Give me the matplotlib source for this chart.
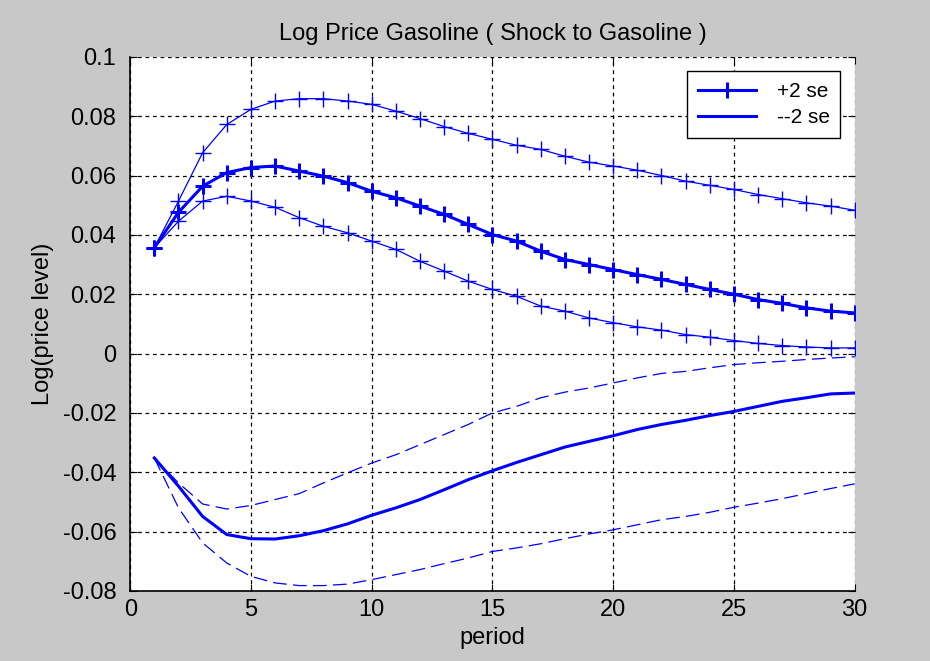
import numpy as np
import matplotlib.pyplot as plt

period = np.arange(1, 31)

# impulse response of log gasoline price, with +/- 2 se bands
up_mid = [0.0357, 0.0476, 0.0564, 0.0610, 0.0627, 0.0632, 0.0615, 0.0598, 0.0576, 0.0547,
          0.0525, 0.0497, 0.0469, 0.0435, 0.0401, 0.0379, 0.0345, 0.0317, 0.0300, 0.0283,
          0.0266, 0.0250, 0.0233, 0.0216, 0.0200, 0.0182, 0.0169, 0.0154, 0.0143, 0.0137]
up_hi = [0.0357, 0.0514, 0.0677, 0.0772, 0.0823, 0.0851, 0.0859, 0.0859, 0.0851, 0.0840,
         0.0817, 0.0792, 0.0765, 0.0742, 0.0722, 0.0702, 0.0688, 0.0665, 0.0645, 0.0632,
         0.0618, 0.0600, 0.0581, 0.0567, 0.0553, 0.0536, 0.0522, 0.0508, 0.0497, 0.0483]
up_lo = [0.0357, 0.0446, 0.0514, 0.0530, 0.0514, 0.0493, 0.0458, 0.0429, 0.0407, 0.0379,
         0.0351, 0.0311, 0.0278, 0.0244, 0.0216, 0.0193, 0.0160, 0.0143, 0.0120, 0.0104,
         0.0090, 0.0079, 0.0064, 0.0055, 0.0044, 0.0034, 0.0027, 0.0022, 0.0019, 0.0019]

dn_mid = [-0.0352, -0.0447, -0.0549, -0.0610, -0.0624, -0.0625, -0.0614, -0.0597, -0.0574, -0.0545,
          -0.0520, -0.0492, -0.0459, -0.0425, -0.0395, -0.0367, -0.0341, -0.0315, -0.0296, -0.0277,
          -0.0256, -0.0239, -0.0225, -0.0209, -0.0195, -0.0178, -0.0161, -0.0149, -0.0136, -0.0133]
dn_hi = [-0.0352, -0.0436, -0.0507, -0.0524, -0.0512, -0.0492, -0.0472, -0.0436, -0.0402, -0.0369,
         -0.0341, -0.0307, -0.0273, -0.0239, -0.0200, -0.0178, -0.0149, -0.0130, -0.0116, -0.0099,
         -0.0082, -0.0067, -0.0060, -0.0048, -0.0037, -0.0031, -0.0026, -0.0020, -0.0015, -0.0011]
dn_lo = [-0.0352, -0.0520, -0.0638, -0.0706, -0.0751, -0.0773, -0.0782, -0.0782, -0.0777, -0.0762,
         -0.0745, -0.0728, -0.0708, -0.0689, -0.0667, -0.0655, -0.0641, -0.0624, -0.0608, -0.0594,
         -0.0577, -0.0560, -0.0549, -0.0535, -0.0518, -0.0504, -0.0489, -0.0472, -0.0455, -0.0439]

xticks = [0, 5, 10, 15, 20, 25, 30]
yticks = [-0.08, -0.06, -0.04, -0.02, 0, 0.02, 0.04, 0.06, 0.08, 0.1]
ytick_labels = ['-0.08', '-0.06', '-0.04', '-0.02', '0', '0.02', '0.04', '0.06', '0.08', '0.1']

plt.rcParams['font.family'] = ['Liberation Sans', 'DejaVu Sans']
blue = '#0000ff'

fig = plt.figure(figsize=(9.30, 6.61), dpi=100, facecolor='#c8c8c8')
ax = fig.add_axes([0.14, 0.106, 0.779, 0.808])
ax.set_facecolor('white')

l1, = ax.plot(period, up_mid, color=blue, lw=2.2, marker='+', ms=12, mew=2.2)
ax.plot(period, up_hi, color=blue, lw=0.9, marker='+', ms=12, mew=1.0)
ax.plot(period, up_lo, color=blue, lw=0.9, marker='+', ms=12, mew=1.0)

l2, = ax.plot(period, dn_mid, color=blue, lw=2.2)
ax.plot(period, dn_hi, color=blue, lw=0.9, linestyle=(0, (11, 5)))
ax.plot(period, dn_lo, color=blue, lw=0.9, linestyle=(0, (11, 5)))

ax.set_xlim(0, 30)
ax.set_ylim(-0.08, 0.1)
ax.set_xticks(xticks)
ax.set_yticks(yticks)
ax.set_yticklabels(ytick_labels)
ax.tick_params(direction='in', length=5, labelsize=17, top=True, right=True)
ax.tick_params(axis='y', pad=10)
ax.tick_params(axis='x', pad=6)
ax.grid(True, color='black', linestyle=(0, (3, 3)), lw=0.9)
ax.spines['top'].set_visible(False)
ax.spines['right'].set_visible(False)
ax.spines['left'].set_linewidth(1.2)
ax.spines['bottom'].set_linewidth(1.2)

ax.set_title('Log Price Gasoline ( Shock to Gasoline )', fontsize=17, pad=12)
ax.set_xlabel('period', fontsize=17, labelpad=4)
ax.set_ylabel('Log(price level)', fontsize=17, labelpad=6)

leg = ax.legend([l1, l2], ['+2 se', '--2 se'], loc='upper right', numpoints=1,
                fontsize=15, fancybox=False, framealpha=1, edgecolor='black',
                handlelength=2.8, handletextpad=1.0, borderaxespad=0.7,
                borderpad=0.5, labelspacing=0.35)
leg.get_frame().set_linewidth(1.0)

fig.savefig('out.png', dpi=100, facecolor=fig.get_facecolor())
